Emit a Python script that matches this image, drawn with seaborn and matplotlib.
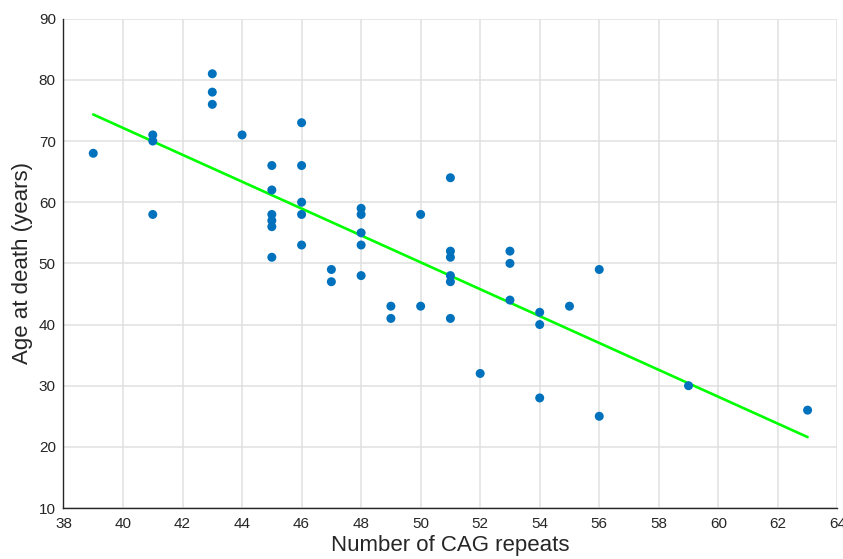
import numpy as np
import pandas as pd
import matplotlib
matplotlib.use("Agg")
import matplotlib.pyplot as plt
import seaborn as sns

# datos: repeticiones CAG vs edad de muerte
cag_repeats = [39, 41, 41, 41, 43, 43, 43, 44,
               45, 45, 45, 45, 45, 45,
               46, 46, 46, 46, 46,
               47, 47,
               48, 48, 48, 48, 48,
               49, 49, 50, 50,
               51, 51, 51, 51, 51, 51,
               52, 53, 53, 53, 54, 54, 54, 55, 56, 56, 59, 63]
age_at_death = [68, 71, 70, 58, 81, 78, 76, 71,
                66, 62, 58, 57, 56, 51,
                73, 66, 60, 58, 53,
                49, 47,
                59, 58, 55, 53, 48,
                43, 41, 58, 43,
                64, 52, 51, 48, 47, 41,
                32, 52, 50, 44, 42, 40, 28, 43, 49, 25, 30, 26]

xticks = list(range(38, 65, 2))
yticks = list(range(10, 91, 10))

df = pd.DataFrame({'cag': cag_repeats, 'edad': age_at_death})

sns.set_style("white")
plt.rcParams['font.family'] = ['Liberation Sans', 'DejaVu Sans']

fig = plt.figure(figsize=(8.43, 5.59), dpi=100)
ax = fig.add_axes([0.0753, 0.0912, 0.918, 0.8753])

sns.regplot(data=df, x='cag', y='edad', scatter=False, ci=None, ax=ax,
            line_kws={'color': '#00ff00', 'linewidth': 1.9, 'zorder': 2})
sns.scatterplot(data=df, x='cag', y='edad', ax=ax, color='#0072bd',
                s=42, edgecolor='none', linewidth=0, zorder=3)

ax.set_xlim(38, 64)
ax.set_ylim(10, 90)
ax.set_xticks(xticks)
ax.set_yticks(yticks)
ax.grid(True, color='#e0e0e0', linewidth=1.1)
ax.set_axisbelow(True)
for lado in ['top', 'right']:
    ax.spines[lado].set_visible(False)
for lado in ['left', 'bottom']:
    ax.spines[lado].set_color('#262626')
    ax.spines[lado].set_linewidth(1.0)
ax.tick_params(direction='in', length=5, width=1, color='#262626',
               labelsize=11, labelcolor='#262626')
ax.tick_params(axis='x', pad=6.5)
ax.tick_params(axis='y', pad=5.5)
ax.set_xlabel('Number of CAG repeats', fontsize=16, color='#262626', labelpad=2.5)
ax.set_ylabel('Age at death (years)', fontsize=16, color='#262626', labelpad=4)

fig.savefig('out.png', dpi=100)
